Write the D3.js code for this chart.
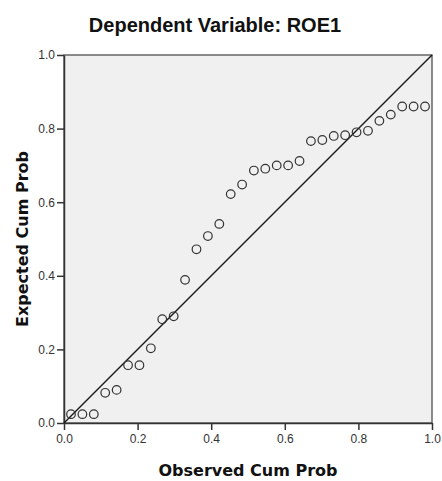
<!DOCTYPE html>
<html>
<head>
<meta charset="utf-8">
<script src="https://cdn.jsdelivr.net/npm/d3@7"></script>
<style>
  body { margin: 0; background: #fff; }
  text { font-family: "Liberation Sans", Arial, sans-serif; }
</style>
</head>
<body>
<div id="chart"></div>
<script>
// P-P plot of regression standardized residual
var observed = [0.019, 0.050, 0.081, 0.112, 0.143, 0.174, 0.205, 0.236, 0.267, 0.298,
                0.329, 0.360, 0.391, 0.422, 0.453, 0.484, 0.516, 0.547, 0.578, 0.609,
                0.640, 0.671, 0.702, 0.733, 0.764, 0.795, 0.826, 0.857, 0.888, 0.919,
                0.950, 0.981];
var expected = [0.024, 0.024, 0.024, 0.082, 0.090, 0.157, 0.157, 0.203, 0.282, 0.290,
                0.389, 0.472, 0.508, 0.541, 0.622, 0.648, 0.686, 0.691, 0.700, 0.700,
                0.712, 0.766, 0.769, 0.780, 0.782, 0.790, 0.794, 0.821, 0.838, 0.860,
                0.860, 0.860];
var ticks = [0.0, 0.2, 0.4, 0.6, 0.8, 1.0];
var title = "Dependent Variable: ROE1";
var xTitle = "Observed Cum Prob";
var yTitle = "Expected Cum Prob";

var svgWidth = 442;
var svgHeight = 481;
var margin = { top: 55, right: 10, bottom: 58, left: 64 };
var width = svgWidth - margin.left - margin.right;
var height = svgHeight - margin.top - margin.bottom;

var svg = d3.select("#chart")
    .append("svg")
    .attr("width", svgWidth)
    .attr("height", svgHeight);

var g = svg.append("g")
    .attr("transform", `translate(${margin.left}, ${margin.top})`);

var x = d3.scaleLinear().domain([0, 1]).range([0, width]);
var y = d3.scaleLinear().domain([0, 1]).range([height, 0]);

// plot background + frame
g.append("rect")
    .attr("width", width)
    .attr("height", height)
    .attr("fill", "#f0f0f0")
    .attr("stroke", "#666")
    .attr("stroke-width", 1.5);

var xAxis = g.append("g")
    .attr("transform", "translate(0," + height + ")")
    .call(d3.axisBottom(x).tickValues(ticks).tickFormat(d3.format(".1f")).tickSize(7).tickSizeOuter(0));

var yAxis = g.append("g")
    .call(d3.axisLeft(y).tickValues(ticks).tickFormat(d3.format(".1f")).tickSize(7).tickSizeOuter(0));

[xAxis, yAxis].forEach(function(a) {
    a.select(".domain").attr("stroke", "#333").attr("stroke-width", 1.5);
    a.selectAll(".tick line").attr("stroke", "#333").attr("stroke-width", 1.5);
    a.selectAll(".tick text")
        .attr("fill", "#333")
        .style("font-size", "12px")
        .style("font-family", "'Liberation Sans', Arial, sans-serif");
});
xAxis.selectAll(".tick text").attr("dy", "0.95em").attr("y", 9);
yAxis.selectAll(".tick text").attr("x", -9);

// diagonal reference line
g.append("line")
    .attr("x1", x(0)).attr("y1", y(0))
    .attr("x2", x(1)).attr("y2", y(1))
    .attr("stroke", "#1a1a1a")
    .attr("stroke-width", 1.5);

var points = observed.map(function(d, i) { return { o: d, e: expected[i] }; });

g.append("g")
    .selectAll("circle")
    .data(points)
    .enter()
    .append("circle")
        .attr("cx", function(d) { return x(d.o); })
        .attr("cy", function(d) { return y(d.e); })
        .attr("r", 4.3)
        .attr("fill", "none")
        .attr("stroke", "#333")
        .attr("stroke-width", 1.2);

svg.append("text")
    .attr("x", 215)
    .attr("y", 32)
    .attr("text-anchor", "middle")
    .style("font-size", "20px")
    .style("font-weight", "bold")
    .attr("fill", "#111")
    .text(title);

svg.append("text")
    .attr("x", margin.left + width / 2)
    .attr("y", 476)
    .attr("text-anchor", "middle")
    .style("font-size", "16px")
    .style("font-weight", "bold")
    .style("font-family", "'DejaVu Sans', Verdana, sans-serif")
    .attr("fill", "#111")
    .text(xTitle);

svg.append("text")
    .attr("transform", "translate(28," + (margin.top + height / 2) + ") rotate(-90)")
    .attr("text-anchor", "middle")
    .style("font-size", "16px")
    .style("font-weight", "bold")
    .style("font-family", "'DejaVu Sans', Verdana, sans-serif")
    .attr("fill", "#111")
    .text(yTitle);
</script>
</body>
</html>
